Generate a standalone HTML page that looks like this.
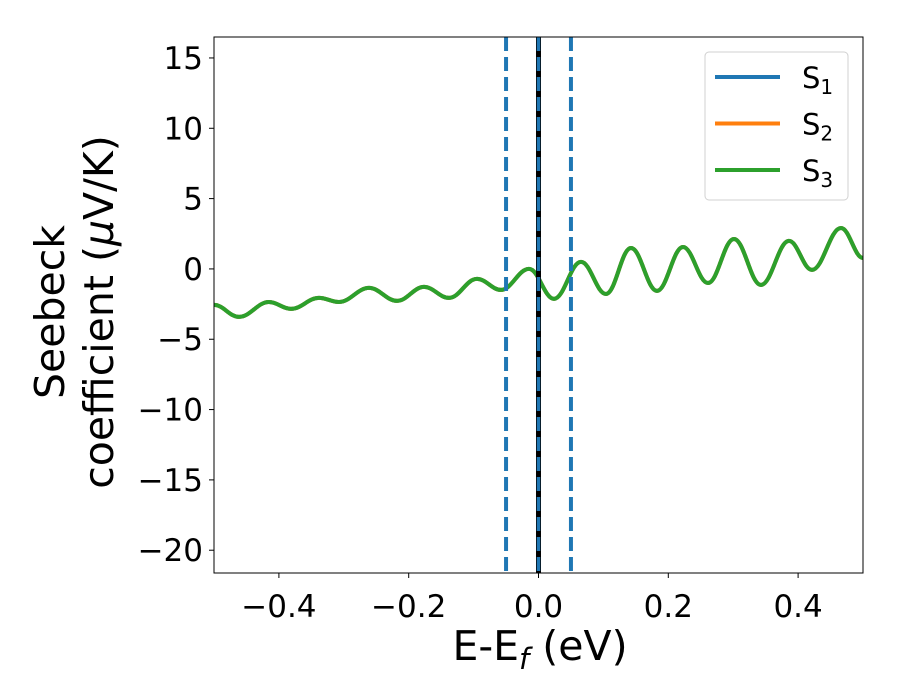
<!DOCTYPE html>
<html><head><meta charset="utf-8"><style>
body{margin:0;background:#fff}
svg{display:block;font-family:"DejaVu Sans","Liberation Sans",sans-serif}
</style></head><body>
<svg id="chart" width="900" height="700">
  <rect x="0" y="0" width="900" height="700" fill="#fff"/>
</svg>
<script>
const xData = [-0.5,-0.4615,-0.4153,-0.3814,-0.3382,-0.3074,-0.2612,-0.2180,-0.1764,-0.1379,-0.0948,-0.0578,-0.0146,0.0239,0.0655,0.1040,0.1425,0.1826,0.2227,0.2612,0.3012,0.3428,0.3860,0.4214,0.4661,0.5];
const s3Values = [-2.56,-3.41,-2.35,-2.84,-2.06,-2.35,-1.35,-2.27,-1.28,-2.06,-0.71,-1.49,0.0,-2.13,0.50,-1.78,1.49,-1.56,1.56,-1.0,2.13,-1.14,1.99,-0.07,2.91,0.78];
const xTicks = [-0.4,-0.2,0.0,0.2,0.4];
const xTickLabels = ["\u22120.4","\u22120.2","0.0","0.2","0.4"];
const yTicks = [15,10,5,0,-5,-10,-15,-20];
const yTickLabels = ["15","10","5","0","\u22125","\u221210","\u221215","\u221220"];
const vLines = [-0.05,0.05];
const legendLabels = [["S","1"],["S","2"],["S","3"]];
const legendColors = ["#1f77b4","#ff7f0e","#2ca02c"];

const L=214,R=863,T=37,B=573;
const xMin=-0.5,xMax=0.5,yMin=-21.62,yMax=16.49;
const sx=v=>L+(v-xMin)/(xMax-xMin)*(R-L);
const sy=v=>B-(v-yMin)/(yMax-yMin)*(B-T);
const svg=document.getElementById('chart');
const NS='http://www.w3.org/2000/svg';
function mk(tag,attrs,parent){const e=document.createElementNS(NS,tag);for(const k in attrs)e.setAttribute(k,attrs[k]);(parent||svg).appendChild(e);return e;}

const clip=mk('clipPath',{id:'pc'});mk('rect',{x:L,y:T,width:R-L,height:B-T},clip);

let d='M'+sx(xData[0])+','+sy(s3Values[0]);
for(let i=1;i<xData.length;i++){
  const x0=sx(xData[i-1]),y0=sy(s3Values[i-1]),x1=sx(xData[i]),y1=sy(s3Values[i]);
  const dx=(x1-x0)/2.6;
  d+=` C${x0+dx},${y0} ${x1-dx},${y1} ${x1},${y1}`;
}
const g=mk('g',{'clip-path':'url(#pc)'});


['#1f77b4','#ff7f0e','#2ca02c'].forEach((c,i)=>{
  const p=mk('path',{d:d,fill:'none',stroke:c,'stroke-width':4},g);
  
  
});
const zl=mk('line',{x1:sx(0),x2:sx(0),y1:T,y2:B,stroke:'#000','stroke-width':5},g);


const zb=mk('line',{x1:sx(0),x2:sx(0),y1:T,y2:B,stroke:'#1f77b4','stroke-width':3.5,'stroke-dasharray':'14,6'},g);


vLines.forEach((v,i)=>{
  const l=mk('line',{x1:sx(v),x2:sx(v),y1:T,y2:B,stroke:'#1f77b4','stroke-width':4,'stroke-dasharray':'14,6'},g);
  
  
});

const fr=mk('rect',{x:L,y:T,width:R-L,height:B-T,fill:'none',stroke:'#000','stroke-width':1});



xTicks.forEach((v,i)=>{
  const t=mk('line',{x1:sx(v),x2:sx(v),y1:B,y2:B+5,stroke:'#000','stroke-width':1});
  
  
  const tx=mk('text',{x:sx(v),y:B+44,'font-size':31,'text-anchor':'middle'});
  tx.textContent=xTickLabels[i];
  
  
});
yTicks.forEach((v,i)=>{
  const t=mk('line',{x1:L-5,x2:L,y1:sy(v),y2:sy(v),stroke:'#000','stroke-width':1});
  
  
  const tx=mk('text',{x:L-11,y:sy(v)+11,'font-size':31,'text-anchor':'end'});
  tx.textContent=yTickLabels[i];
  
  
});

const xt=mk('text',{x:540,y:660,'font-size':41,'text-anchor':'middle'});
xt.innerHTML='E-E<tspan font-size="29" dy="9" font-style="italic">f</tspan><tspan dy="-9"> (eV)</tspan>';


const yt=mk('text',{x:0,y:0,'font-size':41,'text-anchor':'middle',transform:'translate(64,312) rotate(-90)'});
yt.innerHTML='<tspan x="0" dy="0">Seebeck</tspan><tspan x="0" dy="49">coefficient  (<tspan font-style="italic">μ</tspan>V/K)</tspan>';



const lg=mk('g',{});


mk('rect',{x:705,y:52,width:143,height:148,rx:4,fill:'#fff','fill-opacity':0.8,stroke:'#d0d0d0','stroke-width':1},lg);
legendLabels.forEach((lab,i)=>{
  const y=77+i*46.5;
  const e=mk('g',{},lg);
  
  
  mk('line',{x1:715,x2:780,y1:y,y2:y,stroke:legendColors[i],'stroke-width':4},e);
  const t=mk('text',{x:802,y:y+11,'font-size':29},e);
  t.innerHTML=lab[0]+'<tspan font-size="20" dy="6">'+lab[1]+'</tspan>';
});
</script>
</body></html>
